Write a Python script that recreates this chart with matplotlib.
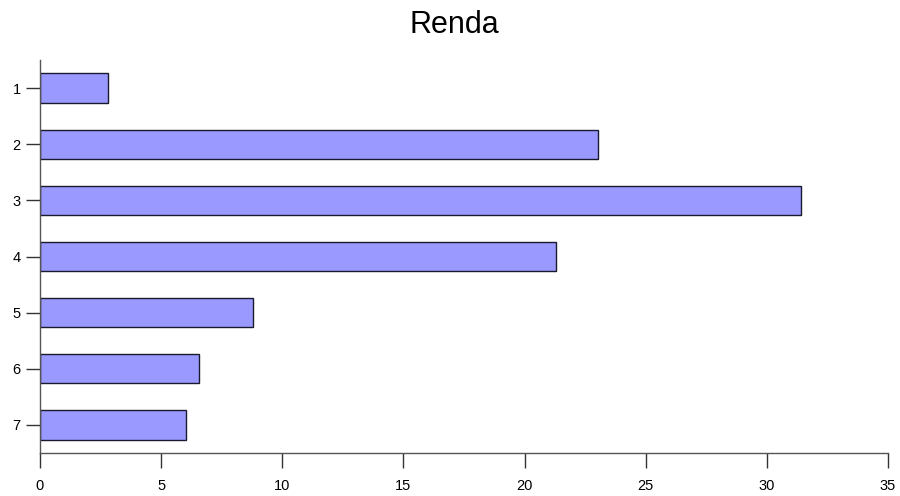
import matplotlib
matplotlib.use("Agg")
import matplotlib.pyplot as plt

plt.rcParams['font.family'] = ['Liberation Sans', 'DejaVu Sans']

categories = ['1', '2', '3', '4', '5', '6', '7']
values = [2.79, 23.02, 31.39, 21.28, 8.79, 6.58, 6.01]
xticks = [0, 5, 10, 15, 20, 25, 30, 35]
title = 'Renda'

fig = plt.figure(figsize=(9, 4.96), dpi=100)
ax = fig.add_axes([40/900, 43/496, 848/900, 393/496])

pos = list(range(1, len(categories) + 1))
ax.barh(pos, values, height=0.52, color='#9999FF', edgecolor='#1a1a2e', linewidth=1.0)

ax.set_xlim(0, 35)
ax.set_ylim(7.5, 0.5)
ax.set_yticks(pos)
ax.set_yticklabels(categories)
ax.set_xticks(xticks)
ax.set_xticklabels([str(t) for t in xticks])

for s in ['top', 'right']:
    ax.spines[s].set_visible(False)
for s in ['left', 'bottom']:
    ax.spines[s].set_color('#555555')
    ax.spines[s].set_linewidth(1.0)

ax.tick_params(axis='x', length=11, width=1, color='#333333', labelsize=10.5, pad=8)
ax.tick_params(axis='y', length=10, width=1, color='#333333', labelsize=10.5, pad=4)

fig.text(454/900, 1 - 33/496, title, ha='center', va='baseline', fontsize=22)

fig.savefig('out.png', dpi=100)
